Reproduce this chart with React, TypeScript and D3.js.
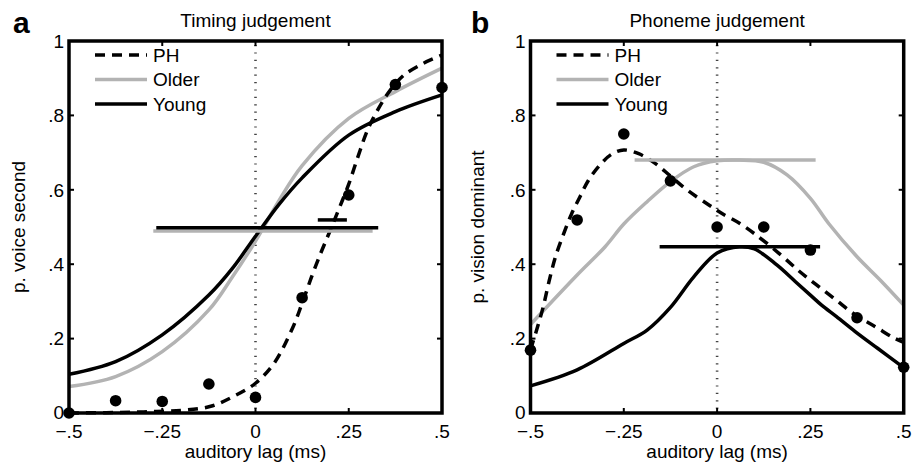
import * as d3 from "d3";
import React from "react";

const W = 918;
const H = 466;
const font = "'Liberation Sans', Arial, Helvetica, sans-serif";
const gray = "#b3b3b3";

// stimulus lags and PH data points
const lagLevels = [-0.5, -0.375, -0.25, -0.125, 0, 0.125, 0.25, 0.375, 0.5];
const timingPH = [0, 0.033, 0.031, 0.078, 0.042, 0.31, 0.586, 0.883, 0.875];
const phonemePH = [0.169, 0.519, 0.75, 0.624, 0.5, 0.5, 0.438, 0.256, 0.123];

// fitted curves
const timingOlderX = [-0.5, -0.375, -0.25, -0.125, -0.0625, 0, 0.0625, 0.125, 0.25, 0.375, 0.5];
const timingOlder = [0.071, 0.098, 0.165, 0.277, 0.365, 0.462, 0.57, 0.665, 0.792, 0.864, 0.927];
const timingYoungX = [-0.5, -0.375, -0.25, -0.125, -0.0625, 0, 0.0625, 0.125, 0.25, 0.375, 0.5];
const timingYoung = [0.104, 0.138, 0.21, 0.317, 0.388, 0.475, 0.56, 0.632, 0.747, 0.81, 0.855];
const timingPHX = [-0.5, -0.4, -0.3, -0.2, -0.12, -0.06, 0, 0.05, 0.1, 0.125, 0.15, 0.175, 0.2, 0.225, 0.25, 0.275, 0.3, 0.325, 0.35, 0.375, 0.4, 0.45, 0.5];
const timingPHFit = [0, 0.001, 0.003, 0.007, 0.018, 0.044, 0.08, 0.134, 0.23, 0.295, 0.365, 0.43, 0.49, 0.552, 0.615, 0.69, 0.76, 0.81, 0.852, 0.885, 0.91, 0.94, 0.962];

const phonemeOlderX = [-0.5, -0.375, -0.3, -0.25, -0.1875, -0.125, -0.0625, 0, 0.06, 0.125, 0.1875, 0.25, 0.3, 0.375, 0.4375, 0.5];
const phonemeOlder = [0.238, 0.371, 0.447, 0.508, 0.568, 0.622, 0.662, 0.678, 0.68, 0.674, 0.64, 0.577, 0.508, 0.42, 0.357, 0.29];
const phonemeYoungX = [-0.5, -0.375, -0.25, -0.1875, -0.125, -0.0625, 0, 0.06, 0.1, 0.16, 0.21, 0.25, 0.28, 0.32, 0.37, 0.43, 0.5];
const phonemeYoung = [0.073, 0.116, 0.187, 0.223, 0.284, 0.366, 0.43, 0.447, 0.441, 0.398, 0.353, 0.317, 0.29, 0.259, 0.219, 0.174, 0.122];
const phonemePHX = [-0.5, -0.483, -0.466, -0.45, -0.433, -0.41, -0.39, -0.367, -0.345, -0.313, -0.282, -0.25, -0.21, -0.166, -0.124, -0.077, -0.023, 0.01, 0.06, 0.1, 0.165, 0.218, 0.263, 0.317, 0.37, 0.424, 0.473, 0.5];
const phonemePHFit = [0.17, 0.225, 0.285, 0.355, 0.42, 0.485, 0.535, 0.582, 0.625, 0.668, 0.696, 0.707, 0.697, 0.671, 0.636, 0.597, 0.56, 0.538, 0.51, 0.482, 0.43, 0.383, 0.347, 0.305, 0.264, 0.232, 0.202, 0.19];

// threshold bars
const timingBarNames = ["Older", "Young", "PH"];
const timingBarLevel = [0.489, 0.498, 0.519];
const timingBarFrom = [-0.274, -0.266, 0.167];
const timingBarTo = [0.314, 0.329, 0.245];
const phonemeBarNames = ["Older", "Young"];
const phonemeBarLevel = [0.68, 0.447];
const phonemeBarFrom = [-0.221, -0.154];
const phonemeBarTo = [0.264, 0.276];

const legendNames = ["PH", "Older", "Young"];
const xTicks = [-0.5, -0.25, 0, 0.25, 0.5];
const xTickLabels = ["\u2212.5", "\u2212.25", "0", ".25", ".5"];
const yTicks = [0, 0.2, 0.4, 0.6, 0.8, 1];
const yTickLabels = ["0", ".2", ".4", ".6", ".8", "1"];

const seriesStyle = {
  PH: { stroke: "#000", dash: "10,7" },
  Older: { stroke: gray, dash: undefined },
  Young: { stroke: "#000", dash: undefined },
};

const zip = (xs, ys) => xs.map((v, i) => [v, ys[i]]);

function Panel({ left, right, letter, letterX, title, yLabel, yLabelX, curves, dots, bars }) {
  const top = 41;
  const bottom = 413;
  const x = d3.scaleLinear().domain([-0.5, 0.5]).range([left, right]);
  const y = d3.scaleLinear().domain([0, 1]).range([bottom, top]);
  const line = d3
    .line()
    .x((d) => x(d[0]))
    .y((d) => y(d[1]))
    .curve(d3.curveCatmullRom.alpha(0.5));
  const sw = 3.5;

  return (
    <g>
      <text x={letterX} y={33} fontSize={30} fontWeight="bold" fontFamily={font}>
        {letter}
      </text>
      <text x={(left + right) / 2} y={27} fontSize={19} textAnchor="middle" fontFamily={font}>
        {title}
      </text>
      <text
        transform={`translate(${yLabelX}, ${(top + bottom) / 2}) rotate(-90)`}
        fontSize={19}
        textAnchor="middle"
        fontFamily={font}
      >
        {yLabel}
      </text>
      <text x={(left + right) / 2} y={458} fontSize={19} textAnchor="middle" fontFamily={font}>
        auditory lag (ms)
      </text>

      <line x1={x(0)} x2={x(0)} y1={top + 4} y2={bottom} stroke="#444" strokeWidth={2.6} strokeDasharray="1.2,6.2" />

      {curves.map((c) => (
        <path
          key={c.name}
          d={line(zip(c.xs, c.ys))}
          fill="none"
          stroke={seriesStyle[c.name].stroke}
          strokeDasharray={seriesStyle[c.name].dash}
          strokeWidth={sw}
        />
      ))}

      {bars.names.map((n, i) => (
        <line
          key={n}
          x1={x(bars.from[i])}
          x2={x(bars.to[i])}
          y1={y(bars.level[i])}
          y2={y(bars.level[i])}
          stroke={seriesStyle[n].stroke}
          strokeWidth={sw}
        />
      ))}

      {dots.map((v, i) => (
        <circle key={i} cx={x(lagLevels[i])} cy={y(v)} r={5.8} fill="#000" />
      ))}

      {legendNames.map((n, i) => {
        const ly = 55 + i * 24.5;
        return (
          <g key={n}>
            <line
              x1={left + 26}
              x2={left + 78}
              y1={ly}
              y2={ly}
              stroke={seriesStyle[n].stroke}
              strokeDasharray={seriesStyle[n].dash}
              strokeWidth={sw}
            />
            <text x={left + 84} y={ly} dy="0.36em" fontSize={19} fontFamily={font}>
              {n}
            </text>
          </g>
        );
      })}

      <rect x={left} y={top} width={right - left} height={bottom - top} fill="none" stroke="#000" strokeWidth={sw} />
      {xTicks.map((t, i) => (
        <g key={"x" + i}>
          <line x1={x(t)} x2={x(t)} y1={bottom} y2={bottom - 5} stroke="#000" strokeWidth={2} />
          <line x1={x(t)} x2={x(t)} y1={top} y2={top + 5} stroke="#000" strokeWidth={2} />
          <text x={x(t)} y={438} fontSize={19} textAnchor="middle" fontFamily={font}>
            {xTickLabels[i]}
          </text>
        </g>
      ))}
      {yTicks.map((t, i) => (
        <g key={"y" + i}>
          <line x1={left} x2={left + 5} y1={y(t)} y2={y(t)} stroke="#000" strokeWidth={2} />
          <line x1={right} x2={right - 5} y1={y(t)} y2={y(t)} stroke="#000" strokeWidth={2} />
          <text x={left - 5} y={y(t)} dy={t === 0 ? "0.3em" : "0.36em"} fontSize={19} textAnchor="end" fontFamily={font}>
            {yTickLabels[i]}
          </text>
        </g>
      ))}
    </g>
  );
}

export default function App() {
  return (
    <svg
      width={W}
      height={H}
      style={{ position: "absolute", left: 0, top: 0, background: "#fff" }}
    >
      <rect width={W} height={H} fill="#fff" />
      <Panel
        left={69}
        right={442}
        letter="a"
        letterX={13}
        title="Timing judgement"
        yLabel="p. voice second"
        yLabelX={25}
        curves={[
          { name: "Older", xs: timingOlderX, ys: timingOlder },
          { name: "Young", xs: timingYoungX, ys: timingYoung },
          { name: "PH", xs: timingPHX, ys: timingPHFit },
        ]}
        dots={timingPH}
        bars={{ names: timingBarNames, level: timingBarLevel, from: timingBarFrom, to: timingBarTo }}
      />
      <Panel
        left={530.5}
        right={903.7}
        letter="b"
        letterX={471}
        title="Phoneme judgement"
        yLabel="p. vision dominant"
        yLabelX={484}
        curves={[
          { name: "Older", xs: phonemeOlderX, ys: phonemeOlder },
          { name: "Young", xs: phonemeYoungX, ys: phonemeYoung },
          { name: "PH", xs: phonemePHX, ys: phonemePHFit },
        ]}
        dots={phonemePH}
        bars={{ names: phonemeBarNames, level: phonemeBarLevel, from: phonemeBarFrom, to: phonemeBarTo }}
      />
    </svg>
  );
}
